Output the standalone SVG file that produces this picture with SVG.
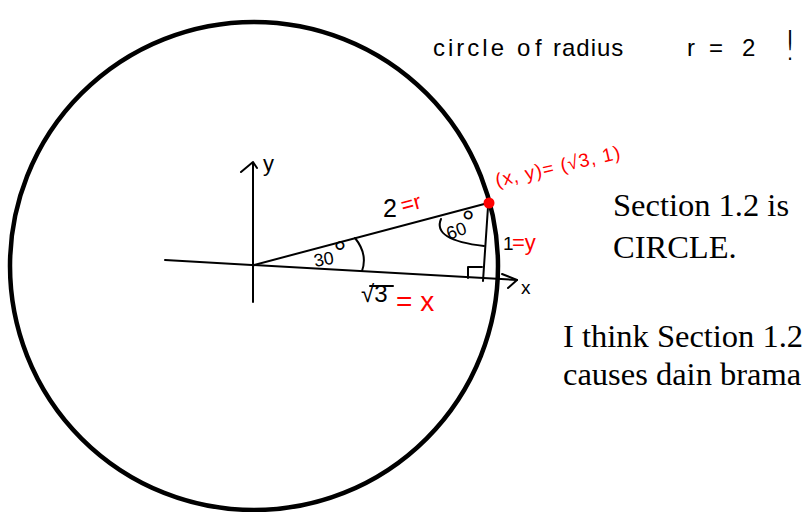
<svg xmlns="http://www.w3.org/2000/svg" width="802" height="512" viewBox="0 0 802 512">
<style>
.ink{fill:none;stroke:#000;stroke-width:2;stroke-linecap:round;stroke-linejoin:round}
.hand{font-family:"Liberation Sans","DejaVu Sans",sans-serif;fill:#000}
.red{fill:#f00}
.deg{font-size:32px}
.serif{font-family:"Liberation Serif","Times New Roman",serif;font-size:32.5px;fill:#000}
</style>
<rect width="802" height="512" fill="#fff"/>
<g id="main-circle"><circle cx="254" cy="266" r="244" fill="none" stroke="#000" stroke-width="4.5"/></g>
<g id="connectors">
  <g id="y-axis">
    <path class="ink" d="M253,163 V302"/>
    <path class="ink" d="M241,172 L253,162 L257,168"/>
  </g>
  <g id="x-axis">
    <path class="ink" d="M165,260 L517,280"/>
    <path class="ink" d="M502,274 L517,280 L508,288"/>
  </g>
  <g id="triangle">
    <path class="ink" d="M254,265 L488,203"/>
    <path class="ink" d="M488,207 L483,281"/>
    <path class="ink" d="M468,278 V267 H482"/>
    <path class="ink" d="M355,238 Q368,254 362,271"/>
    <path class="ink" d="M441,219 Q432,240 484,246"/>
    <path class="ink" d="M370,286 H393"/>
  </g>
</g>
<g id="point"><circle cx="489" cy="203" r="5.5" fill="#f00"/></g>
<g id="labels" class="hand">
  <text x="263" y="171" font-size="22">y</text>
  <text x="521" y="294" font-size="19">x</text>
  <text x="383" y="217" font-size="25">2</text>
  <text x="403" y="213" font-size="22" class="red" transform="rotate(-15 403 213)">=r</text>
  <text x="449" y="240" font-size="18" transform="rotate(-20 449 240)">60<tspan class="deg" dy="1">°</tspan></text>
  <text x="315" y="267" font-size="18" transform="rotate(-10 315 267)">30<tspan class="deg" dx="2" dy="1">°</tspan></text>
  <text x="361" y="302" font-size="24">√3</text>
  <text x="396" y="311" font-size="28" class="red">= x</text>
  <text x="503" y="250" font-size="19">1</text>
  <text x="512" y="250" font-size="22" class="red">=y</text>
  <text x="497" y="187" font-size="19" letter-spacing="1" class="red" transform="rotate(-13 497 187)">(x, y)= (√3, 1)</text>
</g>
<g id="title" class="hand">
  <text y="56" font-size="24"><tspan x="433" letter-spacing="3">circle</tspan> <tspan x="517 535">of</tspan> <tspan x="553" letter-spacing="1">radius</tspan> <tspan x="687 709 742">r=2</tspan> <tspan x="782" y="60" font-size="40" font-family="DejaVu Sans" font-weight="200">!</tspan></text>
</g>
<g id="notes" class="serif">
  <text x="613" y="216">Section 1.2 is</text>
  <text x="613" y="258">CIRCLE.</text>
  <text x="563" y="347">I think Section 1.2</text>
  <text x="563" y="385">causes dain brama</text>
</g>
</svg>
